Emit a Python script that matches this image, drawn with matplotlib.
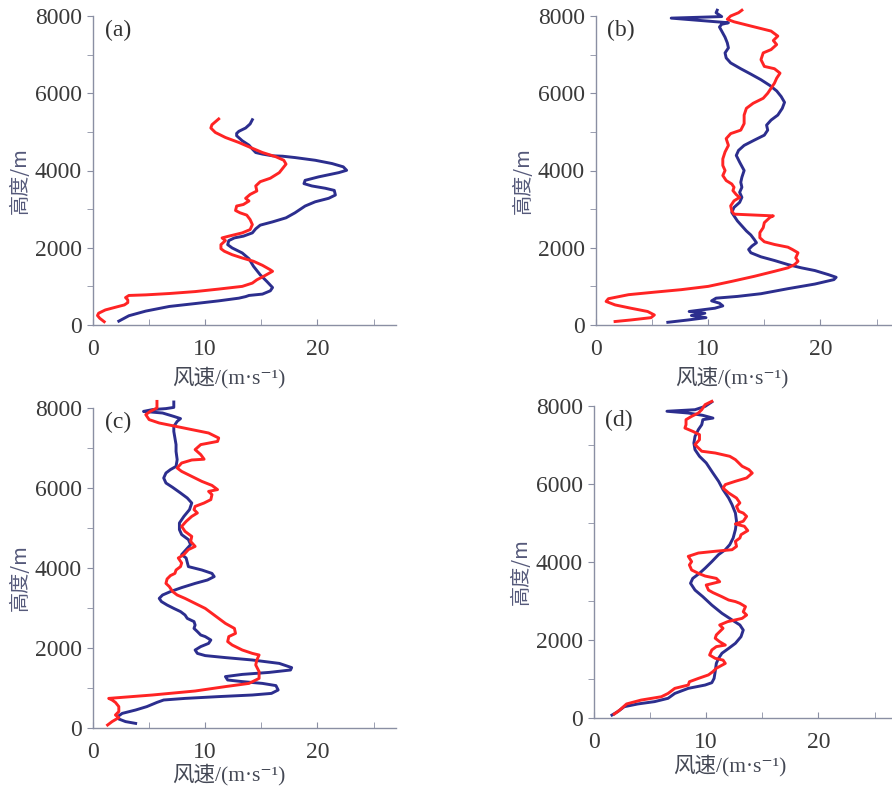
import matplotlib.pyplot as plt
from matplotlib.ticker import MultipleLocator

# wind speed (m/s) vs height (m), blue / red profiles per panel

a_blue_spd = [2.3, 3.2, 4.7, 6.8, 9.1, 11.2, 13.0, 13.6, 13.9, 15.1, 15.8, 16.0, 15.5, 14.9, 14.3,
              13.9, 13.3, 12.4, 12.0, 12.1, 12.6, 13.4, 14.2, 14.5, 14.9, 16.0, 17.2, 18.0, 18.9, 19.8,
              21.0, 21.6, 21.5, 20.7, 19.5, 18.8, 18.9, 20.1, 21.9, 22.6, 22.3, 21.3, 19.8, 18.0, 16.9,
              16.0, 15.1, 14.5, 14.2, 13.9, 13.3, 12.8, 12.8, 13.0, 13.6, 14.0, 14.2]
a_blue_h = [100, 240, 360, 480, 555, 625, 695, 735, 765, 800, 885, 970, 1125, 1300, 1520,
            1715, 1865, 1995, 2080, 2185, 2255, 2300, 2385, 2490, 2585, 2670, 2775, 2905, 3080, 3190,
            3280, 3365, 3485, 3540, 3600, 3660, 3745, 3835, 3945, 4005, 4095, 4180, 4265, 4335, 4370,
            4380, 4425, 4465, 4555, 4655, 4770, 4900, 4960, 5015, 5100, 5205, 5315]
a_red_spd = [1.0, 0.6, 0.4, 0.5, 1.1, 2.2, 2.8, 3.1, 3.1, 2.9, 3.2, 4.7, 6.8, 9.1, 11.2,
             13.3, 14.2, 14.6, 15.2, 16.0, 15.8, 15.1, 14.3, 13.3, 12.4, 11.7, 11.4, 11.4, 11.8, 11.5,
             12.1, 13.3, 14.0, 14.2, 14.0, 13.7, 13.1, 12.7, 12.8, 13.4, 13.9, 13.6, 14.0, 14.6, 14.5,
             14.9, 15.8, 16.6, 17.2, 17.0, 16.3, 15.1, 14.0, 13.0, 11.8, 10.9, 10.5, 10.6, 11.2]
a_red_h = [85, 175, 245, 305, 390, 475, 520, 580, 650, 710, 765, 780, 815, 865, 930,
           1000, 1085, 1170, 1260, 1390, 1430, 1545, 1650, 1735, 1820, 1910, 1975, 2080, 2185, 2255,
           2300, 2385, 2470, 2600, 2730, 2845, 2905, 2965, 3080, 3120, 3210, 3280, 3380, 3470, 3600,
           3710, 3800, 3945, 4165, 4265, 4355, 4465, 4600, 4725, 4855, 4985, 5100, 5185, 5335]

b_blue_spd = [6.4, 8.2, 9.8, 8.5, 9.7, 8.3, 10.6, 11.3, 11.0, 10.3, 10.7, 12.6, 14.7, 17.1, 19.5,
              21.2, 21.4, 20.7, 19.5, 18.3, 17.1, 15.9, 14.7, 13.8, 13.6, 13.9, 14.3, 14.1, 13.8, 13.4,
              13.0, 12.6, 12.3, 12.1, 12.3, 12.8, 13.0, 12.8, 13.0, 12.9, 13.0, 13.2, 12.8, 12.5, 12.7,
              13.2, 14.1, 15.0, 15.3, 15.2, 15.6, 16.2, 16.6, 16.8, 16.5, 16.1, 15.5, 14.7, 13.8, 12.9,
              12.0, 11.6, 11.5, 11.8, 11.7, 11.5, 11.2, 11.0, 11.2, 11.8, 6.7, 11.2, 10.7, 10.8]
b_blue_h = [70, 130, 190, 245, 305, 350, 435, 495, 565, 625, 695, 740, 810, 940, 1060,
            1175, 1235, 1305, 1410, 1480, 1565, 1670, 1765, 1870, 1955, 2045, 2130, 2215, 2330, 2435,
            2565, 2695, 2825, 2915, 3045, 3175, 3305, 3435, 3565, 3695, 3825, 4000, 4215, 4390, 4520,
            4650, 4785, 4915, 5045, 5175, 5305, 5435, 5610, 5765, 5915, 6060, 6200, 6350, 6495, 6635,
            6785, 6915, 7045, 7175, 7305, 7450, 7610, 7715, 7785, 7825, 7945, 7985, 8085, 8150]
b_red_spd = [1.7, 3.1, 4.9, 5.2, 4.6, 3.1, 1.7, 0.9, 1.1, 2.9, 5.2, 7.6, 10.0, 12.1, 14.1,
             15.9, 17.1, 17.7, 18.0, 17.8, 18.0, 17.5, 17.1, 15.9, 15.0, 14.6, 14.6, 14.9, 15.0, 15.5,
             15.8, 12.3, 12.1, 12.0, 12.3, 12.8, 12.5, 12.2, 12.3, 12.1, 11.6, 11.3, 11.5, 11.3,
             11.3, 11.5, 11.8, 11.6, 12.0, 12.9, 13.2, 13.2, 13.4, 14.0, 14.9, 15.3, 15.6, 15.9, 16.1,
             16.4, 15.9, 15.0, 14.7, 14.9, 15.6, 16.1, 15.8, 16.2, 15.6, 13.8, 12.3, 11.7, 12.0, 12.7,
             13.0]
b_red_h = [90, 130, 190, 260, 350, 435, 520, 610, 680, 785, 850, 915, 1000, 1130, 1260,
           1390, 1480, 1565, 1650, 1740, 1870, 1955, 2015, 2085, 2155, 2260, 2390, 2520, 2650, 2785,
           2825, 2870, 2955, 3085, 3215, 3305, 3375, 3480, 3565, 3650, 3740, 3870, 4000, 4130,
           4300, 4480, 4650, 4825, 4955, 5045, 5215, 5435, 5610, 5740, 5870, 6000, 6130, 6260, 6390,
           6520, 6635, 6695, 6870, 7045, 7130, 7260, 7365, 7480, 7610, 7740, 7850, 7915, 8000, 8085,
           8150]

c_blue_spd = [3.8, 2.9, 2.3, 2.2, 2.6, 3.8, 4.8, 5.7, 6.3, 8.2, 11.2, 14.2, 15.9, 16.5, 16.3,
              15.1, 13.3, 12.0, 11.8, 13.3, 15.7, 17.6, 17.7, 16.6, 14.2, 11.8, 10.0, 9.3, 9.1, 9.6,
              10.3, 10.5, 10.0, 9.6, 9.3, 9.0, 9.1, 9.0, 8.4, 8.2, 7.8, 7.2, 6.6, 6.1, 5.9,
              6.2, 6.9, 7.9, 9.1, 10.2, 10.8, 10.6, 9.7, 8.5, 8.3, 7.9, 8.3, 8.7, 8.5,
              7.9, 7.7, 7.7, 8.1, 8.6, 8.8, 8.4, 7.8, 7.1, 6.5, 6.3, 6.5, 6.9, 7.4, 7.5,
              7.4, 7.4, 7.3, 7.2, 7.2, 7.5, 7.8, 7.2, 6.2, 4.5, 5.3, 6.5, 7.2, 7.2]
c_blue_h = [115, 160, 225, 285, 365, 450, 535, 640, 700, 740, 785, 825, 865, 950, 1060,
            1115, 1160, 1200, 1285, 1340, 1390, 1450, 1510, 1615, 1700, 1760, 1810, 1865, 1950, 2035,
            2115, 2200, 2285, 2325, 2410, 2490, 2575, 2660, 2740, 2825, 2910, 2990, 3075, 3160, 3240,
            3325, 3410, 3510, 3615, 3700, 3785, 3865, 3950, 4035, 4250, 4335, 4460, 4585, 4710,
            4835, 4960, 5125, 5290, 5460, 5625, 5750, 5875, 6015, 6125, 6250, 6375, 6460, 6540, 6710,
            6915, 7085, 7250, 7415, 7540, 7665, 7735, 7790, 7875, 7915, 7960, 7985, 8015, 8150]
c_red_spd = [1.3, 1.7, 2.3, 2.0, 2.3, 2.3, 2.0, 1.7, 1.4, 5.3, 9.1, 11.8, 13.9, 14.8, 14.8,
             14.5, 14.6, 14.8, 14.2, 13.3, 12.4, 12.0, 12.1, 12.7, 12.6, 11.8, 11.2, 10.6, 10.0, 9.1,
             8.2, 7.5, 7.1, 6.8, 6.5, 6.6, 6.9, 7.3, 7.4, 7.8, 7.9, 7.6, 8.1, 8.5, 9.1,
             8.7, 8.8, 8.2, 7.9, 8.3, 8.8, 9.3, 9.0, 9.1, 9.9, 10.5, 10.6, 10.3, 11.1, 10.6,
             9.7, 8.8, 7.9, 7.5, 7.9, 8.8, 9.9, 9.6, 9.1, 9.6, 11.1, 11.2, 10.3, 8.8, 7.4,
             5.9, 5.0, 4.7, 5.1, 5.7, 5.7]
c_red_h = [75, 160, 260, 325, 410, 535, 640, 700, 740, 825, 925, 1035, 1115, 1240, 1410,
           1575, 1700, 1825, 1865, 1950, 2075, 2160, 2285, 2365, 2490, 2615, 2740, 2865, 2990, 3115,
           3240, 3325, 3410, 3535, 3615, 3725, 3810, 3865, 3950, 4035, 4125, 4250, 4335, 4460, 4540,
           4665, 4790, 4915, 5040, 5165, 5290, 5375, 5460, 5540, 5625, 5710, 5835, 5915, 5960, 6065,
           6165, 6290, 6415, 6500, 6625, 6700, 6720, 6835, 6960, 7085, 7165, 7250, 7375, 7460, 7540,
           7625, 7710, 7835, 7915, 8000, 8165]

d_blue_spd = [1.6, 2.1, 2.7, 3.9, 5.4, 6.6, 7.2, 8.4, 9.9, 10.5, 10.7, 10.8, 10.9, 11.1, 11.4,
              12.0, 12.6, 13.1, 13.3, 13.0, 12.3, 11.4, 10.5, 9.7, 9.0, 8.6, 8.8, 9.4, 9.9, 10.5,
              11.1, 11.7, 12.1, 12.4, 12.6, 12.7, 12.6, 12.3, 12.0, 11.5, 11.1, 10.6, 10.0, 9.4, 9.0,
              8.9, 9.0, 9.3, 9.6, 9.7, 10.6, 9.7, 8.4, 6.5, 9.0, 9.9, 10.5]
d_blue_h = [75, 160, 290, 360, 420, 505, 630, 760, 845, 905, 1015, 1190, 1400, 1530, 1660,
            1785, 1915, 2085, 2255, 2385, 2515, 2685, 2895, 3110, 3280, 3455, 3580, 3710, 3840, 4010,
            4190, 4315, 4445, 4615, 4830, 5045, 5255, 5470, 5640, 5855, 6070, 6280, 6540, 6710, 6880,
            7050, 7220, 7395, 7520, 7650, 7690, 7760, 7820, 7865, 7905, 7990, 8105]
d_red_spd = [1.8, 2.3, 2.9, 4.2, 6.0, 6.6, 7.2, 8.4, 8.5, 9.3, 10.2, 10.6, 10.9, 11.7, 11.5,
             10.8, 10.3, 10.5, 10.9, 11.7, 11.2, 10.8, 10.9, 11.2, 11.5, 11.2, 11.9, 13.2, 13.6, 13.3,
             13.5, 13.0, 12.6, 12.0, 11.4, 10.6, 10.2, 10.0, 11.2, 10.9, 9.9, 9.3, 8.7, 8.5, 8.7,
             8.4, 9.3, 10.8, 12.3, 12.7, 12.6, 13.0, 13.1, 13.7, 13.4, 12.6, 13.3, 13.6, 13.3, 12.9,
             12.7, 13.0, 12.7, 12.0, 11.5, 11.7, 12.6, 13.6, 14.1, 13.8, 13.2, 12.9, 12.6, 12.1, 10.8,
             9.6, 9.3, 9.0, 9.4, 9.4, 8.8, 8.1, 8.2, 8.2, 8.7, 9.3, 9.6, 9.9, 10.5]
d_red_h = [100, 205, 360, 460, 545, 630, 760, 845, 930, 1015, 1105, 1190, 1275, 1400, 1485,
           1530, 1615, 1745, 1830, 1870, 1955, 2045, 2130, 2215, 2300, 2385, 2470, 2555, 2640, 2725,
           2855, 2940, 2985, 3025, 3110, 3215, 3280, 3410, 3495, 3580, 3640, 3710, 3795, 3925, 4010,
           4145, 4230, 4275, 4315, 4400, 4530, 4615, 4700, 4805, 4915, 4975, 5045, 5170, 5255, 5300,
           5425, 5515, 5640, 5770, 5895, 5985, 6070, 6155, 6280, 6370, 6455, 6540, 6625, 6710, 6795,
           6840, 6925, 7010, 7135, 7265, 7350, 7435, 7520, 7650, 7735, 7820, 7905, 8035, 8120]

BLUE = '#2c2e8e'
RED = '#ff2424'
AXC = '#8a8fa3'
SERIF = ['Liberation Serif', 'Noto Sans CJK SC', 'DejaVu Serif']
CJK = ['Noto Sans CJK SC', 'Liberation Serif', 'DejaVu Sans']

W, H = 892, 786
fig = plt.figure(figsize=(W / 100, H / 100), dpi=100)

# pixel boxes: left, right, top (y=8000), bottom (y=0), xlabel offset
boxes = [(93, 396, 16, 325, 53), (596, 899, 16, 325, 53), (93, 396, 408, 728, 47), (594, 897, 406, 718, 48)]
tags = ['(a)', '(b)', '(c)', '(d)']
series = [(a_blue_spd, a_blue_h, a_red_spd, a_red_h),
          (b_blue_spd, b_blue_h, b_red_spd, b_red_h),
          (c_blue_spd, c_blue_h, c_red_spd, c_red_h),
          (d_blue_spd, d_blue_h, d_red_spd, d_red_h)]

for (l, r, t, b, off), tag, (bs, bh, rs, rh) in zip(boxes, tags, series):
    ax = fig.add_axes([l / W, 1 - b / H, (r - l) / W, (b - t) / H])
    ax.plot(bs, bh, color=BLUE, lw=2.1, clip_on=False, zorder=3)
    ax.plot(rs, rh, color=RED, lw=2.1, clip_on=False, zorder=4)
    ax.set_xlim(0, 27)
    ax.set_ylim(0, 8000)
    ax.spines['top'].set_visible(False)
    ax.spines['right'].set_visible(False)
    for s in ('left', 'bottom'):
        ax.spines[s].set_color(AXC)
        ax.spines[s].set_linewidth(1.0)
    ax.xaxis.set_major_locator(MultipleLocator(10))
    ax.xaxis.set_minor_locator(MultipleLocator(5))
    ax.yaxis.set_major_locator(MultipleLocator(2000))
    ax.yaxis.set_minor_locator(MultipleLocator(1000))
    ax.tick_params(axis='x', which='both', direction='in', length=4, color=AXC, pad=10)
    ax.tick_params(axis='y', which='both', direction='out', length=4, color=AXC, pad=4)
    ax.tick_params(labelsize=17, labelcolor='#3a3a3a')
    for lab in ax.get_xticklabels() + ax.get_yticklabels():
        lab.set_family(SERIF)
    ax.patch.set_alpha(0)

    cx = (l + r) / 2 - 16
    fig.text((l + 25) / W, 1 - (t + 14) / H, tag, fontsize=17, family=SERIF, color='#333333',
             ha='center', va='center')
    fig.text(cx / W, 1 - (b + off) / H, '风速/(m·s⁻¹)', fontsize=15.5, family=SERIF, color='#444855',
             ha='center', va='center')
    fig.text((l - 73) / W, 1 - ((t + b) / 2 + 10) / H, '高度/m', fontsize=14.5, family=CJK,
             color='#55597a', ha='center', va='center', rotation=90)

fig.savefig('out.png', dpi=100)
